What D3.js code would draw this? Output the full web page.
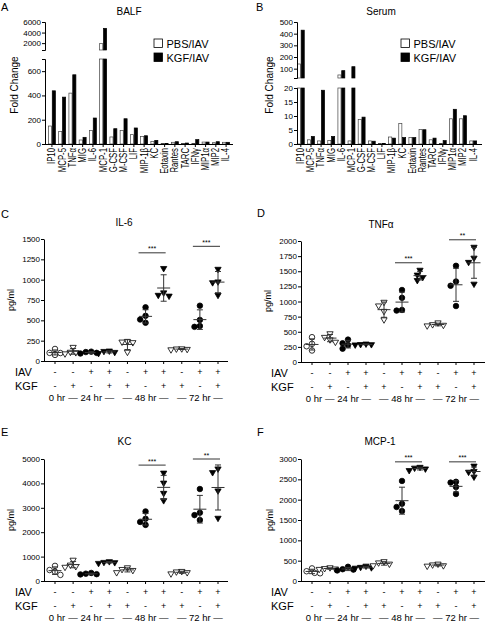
<!DOCTYPE html>
<html><head><meta charset="utf-8">
<script src="https://cdn.jsdelivr.net/npm/d3@7"></script>
<style>
body{margin:0;background:#fff;}
svg{display:block;font-family:"Liberation Sans",Arial,sans-serif;}
</style></head><body>
<svg id="c" width="486" height="622"></svg>
<script>
// ---------- data ----------
const cytokines = ["IP10","MCP-5","TNFα","MIG","IL-6","MCP-1","G-CSF","M-CSF","LIF","MIP-1β","KC","Eotaxin","Rantes","TARC","IFNγ","MIP1α","MIP2","IL-4"];
const balfPBS  = [148, 104, 419, 33, 110, 1900, 58, 110, 77, 63, 22, 5, 14, 5, 3, 16, 11, 14];
const balfKGF  = [438, 386, 570, 55, 214, 4800, 126, 208, 132, 68, 30, 5, 19, 8, 36, 16, 19, 14];
const serumPBS = [140, 1.5, 1.1, 1.2, 46, 1.1, 8.8, 1.1, 0.2, 2.5, 7.3, 2.3, 5.2, 1.5, 0.2, 9.0, 9.0, 1.1];
const serumKGF = [430, 2.7, 19.2, 2.7, 83, 117, 9.6, 1.0, 0.2, 2.1, 2.3, 2.3, 5.1, 2.1, 1.2, 12.4, 10.1, 1.1];
const seriesNames = ["PBS/IAV","KGF/IAV"];

const groupIAV = ["-","-","+","+","-","+","+","-","+","+"];
const groupKGF = ["-","+","-","+","+","-","+","+","-","+"];
const groupShape = ["circle","triangle","circle","triangle","triangle","circle","triangle","triangle","circle","triangle"];
const timeLabels = [
  {label:"0 hr", from:0, to:0},
  {label:"— 24 hr —", from:1, to:3},
  {label:"— 48 hr —", from:4, to:6},
  {label:"— 72 hr —", from:7, to:9}
];

const il6 = [
  [148, 100, 75, 98],
  [170, 105, 90, 110],
  [110, 100, 92, 115],
  [120, 108, 95, 125],
  [240, 235, 228, 110],
  [660, 555, 510, 470],
  [1140, 840, 810, 800],
  [150, 140, 152, 145],
  [680, 505, 430, 420],
  [1130, 975, 965, 810]
];
const tnfa = [
  [410, 300, 260, 190],
  [470, 410, 370, 330],
  [370, 310, 280, 220],
  [300, 290, 285, 292],
  [990, 930, 840, 700],
  [1190, 1060, 860, 850],
  [1520, 1440, 1400, 1350],
  [650, 620, 610, 600],
  [1590, 1330, 1260, 925],
  [1900, 1720, 1650, 1290]
];
const kc = [
  [620, 450, 380, 250],
  [860, 660, 600, 570],
  [330, 300, 280, 270],
  [800, 770, 760, 730],
  [550, 480, 440, 350],
  [2850, 2550, 2420, 2300],
  [4430, 4020, 3600, 3300],
  [400, 380, 350, 300],
  [3770, 2800, 2700, 2500],
  [4600, 4450, 3700, 2580]
];
const mcp1 = [
  [310, 240, 200, 190],
  [330, 310, 300, 290],
  [350, 290, 280, 260],
  [370, 340, 330, 320],
  [480, 450, 420, 380],
  [2460, 1900, 1820, 1720],
  [2800, 2780, 2760, 2720],
  [420, 400, 380, 370],
  [2440, 2420, 2310, 2140],
  [2830, 2700, 2680, 2560]
];
const il6Sig  = [{from:5,to:6,level:1330,label:"***"},{from:8,to:9,level:1410,label:"***"}];
const tnfaSig = [{from:5,to:6,level:1640,label:"***"},{from:8,to:9,level:2020,label:"**"}];
const kcSig   = [{from:5,to:6,level:4750,label:"***"},{from:8,to:9,level:5000,label:"**"}];
const mcp1Sig = [{from:5,to:6,level:2930,label:"***"},{from:8,to:9,level:2930,label:"***"}];

// ---------- drawing ----------
const svg = d3.select("#c");

function txt(x, y, s, size, anchor="start", extra={}) {
  const t = svg.append("text").attr("x", x).attr("y", y).attr("font-size", size)
    .attr("text-anchor", anchor).attr("fill", "#000").text(s);
  for (const k in extra) t.attr(k, extra[k]);
  return t;
}
function vtxt(cx, cy, s, size) {
  svg.append("text").attr("transform", `translate(${cx},${cy}) rotate(-90)`)
    .attr("text-anchor", "middle").attr("dominant-baseline", "central")
    .attr("font-size", size).text(s);
}
function styleAxis(g) {
  g.selectAll("path,line").attr("stroke", "#000").attr("stroke-width", 1);
  g.selectAll("text").attr("font-size", 8).attr("font-family", "Liberation Sans, Arial, sans-serif").attr("fill", "#000");
}

function barPanel(c, pbs, kgf) {
  const x = d3.scaleBand().domain(cytokines).range([c.b0, c.b1]).paddingInner(0.25).paddingOuter(c.po);
  const yLow = d3.scaleLinear().domain([0, c.lowMax]).range([c.yb, c.lowTop]);
  const yHigh = d3.scaleLinear().domain([c.lowMax, c.highMax]).range([c.highBottom, c.top]);
  const bw = x.bandwidth() / 2;
  const series = [pbs, kgf];
  series.forEach((vals, si) => {
    const gg = svg.append("g");
    cytokines.forEach((name, i) => {
      const v = vals[i];
      const bx = x(name) + si * bw;
      const fill = si === 0 ? "#fff" : "#000";
      const stroke = si === 0 ? "#444" : "#000";
      const lowTop = yLow(Math.min(v, c.lowMax));
      gg.append("rect").attr("x", bx + 0.35).attr("width", bw - 0.7)
        .attr("y", lowTop).attr("height", c.yb - lowTop)
        .attr("fill", fill).attr("stroke", stroke).attr("stroke-width", 0.7);
      if (v > c.lowMax) {
        const hTop = yHigh(Math.min(v, c.highMax));
        gg.append("rect").attr("x", bx + 0.35).attr("width", bw - 0.7)
          .attr("y", hTop).attr("height", c.highBottom - hTop)
          .attr("fill", fill).attr("stroke", stroke).attr("stroke-width", 0.7);
      }
    });
  });
  // y axes (broken)
  const a1 = svg.append("g").attr("transform", `translate(${c.x0},0)`)
    .call(d3.axisLeft(yLow).tickValues(c.lowTicks).tickSize(3).tickSizeOuter(3).tickPadding(1).tickFormat(d3.format("d")));
  const a2 = svg.append("g").attr("transform", `translate(${c.x0},0)`)
    .call(d3.axisLeft(yHigh).tickValues(c.highTicks).tickSize(3).tickSizeOuter(3).tickPadding(1).tickFormat(d3.format("d")));
  styleAxis(a1); styleAxis(a2);
  // x axis
  svg.append("line").attr("x1", c.x0).attr("x2", c.x1).attr("y1", c.yb + 0.5).attr("y2", c.yb + 0.5).attr("stroke", "#000");
  cytokines.forEach(name => {
    const cx = x(name) + x.bandwidth() / 2;
    svg.append("line").attr("x1", cx).attr("x2", cx).attr("y1", c.yb).attr("y2", c.yb + 3).attr("stroke", "#000");
    svg.append("text").attr("transform", `translate(${cx},${c.yb + 4}) rotate(-90) scale(0.74,1)`)
      .attr("text-anchor", "end").attr("dominant-baseline", "central").attr("font-size", 10.5).text(name);
  });
  // legend
  seriesNames.forEach((n, i) => {
    svg.append("rect").attr("x", c.lx).attr("y", c.ly + i * 14 - 8.5).attr("width", 8.5).attr("height", 8.5)
      .attr("fill", i === 0 ? "#fff" : "#000").attr("stroke", "#000").attr("stroke-width", 0.8);
    txt(c.lx + 12.5, c.ly + i * 14, n, 11);
  });
}

barPanel({x0:45, x1:233, b0:45, b1:233, po:0.3, yb:144, lowMax:700, lowTop:59, highMax:6000, highBottom:50, top:22,
  lowTicks:[0,200,400,600], highTicks:[2000,4000,6000], lx:154, ly:47.5}, balfPBS, balfKGF);
barPanel({x0:297, x1:482, b0:297, b1:477, po:0, yb:144, lowMax:20, lowTop:88, highMax:500, highBottom:78, top:22,
  lowTicks:[0,5,10,15,20], highTicks:[100,200,300,400,500], lx:401, ly:47.5}, serumPBS, serumKGF);

txt(1, 11, "A", 11); txt(256, 11, "B", 11);
txt(129, 15, "BALF", 10, "middle"); txt(381, 15, "Serum", 10, "middle");
vtxt(14, 85, "Fold Change", 10); vtxt(269.5, 85, "Fold Change", 10);

function swarm(vals, y, d, step) {
  const pts = vals.map(v => ({v, py: y(v)})).sort((a, b) => a.py - b.py);
  const placed = [];
  const offs = [0, -1, 1, -2, 2, -3, 3, -4, 4];
  for (const p of pts) {
    for (const k of offs) {
      const px = k * step;
      if (placed.every(q => Math.hypot(q.px - px, q.py - p.py) >= d)) { p.px = px; placed.push(p); break; }
    }
    if (p.px === undefined) { p.px = 0; placed.push(p); }
  }
  return pts;
}

function dotPanel(c, data, sig) {
  const y = d3.scaleLinear().domain([0, c.max]).range([c.yb, c.yt]);
  const x = d3.scalePoint().domain(d3.range(groupIAV.length)).range([c.g0, c.g9]);
  const ax = svg.append("g").attr("transform", `translate(${c.x0},0)`)
    .call(d3.axisLeft(y).tickValues(d3.range(0, c.max + 1, c.step)).tickSize(3).tickSizeOuter(0).tickPadding(1).tickFormat(d3.format("d")));
  styleAxis(ax);
  svg.append("line").attr("x1", c.x0).attr("x2", c.x1).attr("y1", c.yb + 0.5).attr("y2", c.yb + 0.5).attr("stroke", "#000");
  groupIAV.forEach((s, i) => {
    svg.append("line").attr("x1", x(i)).attr("x2", x(i)).attr("y1", c.yb).attr("y2", c.yb + 3).attr("stroke", "#000");
  });
  const circ = d3.symbol(d3.symbolCircle, 24)();
  const tri = d3.symbol(d3.symbolTriangle, 17)();
  data.forEach((vals, i) => {
    const cx = x(i);
    const m = d3.mean(vals), sd = d3.deviation(vals);
    const filled = groupIAV[i] === "+";
    const g = svg.append("g");
    swarm(vals, y, 5.2, 2.7).forEach(p => {
      g.append("path").attr("d", groupShape[i] === "circle" ? circ : tri)
        .attr("transform", `translate(${cx + p.px},${p.py})` + (groupShape[i] === "circle" ? "" : " rotate(180)"))
        .attr("fill", filled ? "#000" : "#fff").attr("stroke", "#000").attr("stroke-width", 0.8);
    });
    const col = "#333";
    g.append("line").attr("x1", cx - 6.5).attr("x2", cx + 6.5).attr("y1", y(m)).attr("y2", y(m)).attr("stroke", col).attr("stroke-width", 1);
    g.append("line").attr("x1", cx).attr("x2", cx).attr("y1", y(m - sd)).attr("y2", y(m + sd)).attr("stroke", col).attr("stroke-width", 1);
    [m - sd, m + sd].forEach(v => g.append("line").attr("x1", cx - 3).attr("x2", cx + 3).attr("y1", y(v)).attr("y2", y(v)).attr("stroke", col).attr("stroke-width", 1));
  });
  sig.forEach(s => {
    const x1 = x(s.from) - 7, x2 = x(s.to) + 2, yy = y(s.level);
    svg.append("line").attr("x1", x1).attr("x2", x2).attr("y1", yy).attr("y2", yy).attr("stroke", "#000").attr("stroke-width", 0.8);
    txt((x1 + x2) / 2, yy - 1.5, s.label, 7, "middle");
  });
  txt(c.lab, c.yb + 11, "IAV", 11, "start", {"dominant-baseline": "central"});
  txt(c.lab, c.yb + 24.5, "KGF", 11, "start", {"dominant-baseline": "central"});
  groupIAV.forEach((s, i) => txt(x(i), c.yb + 11, s, 9, "middle", {"dominant-baseline": "central"}));
  groupKGF.forEach((s, i) => txt(x(i), c.yb + 24.5, s, 9, "middle", {"dominant-baseline": "central"}));
  timeLabels.forEach(t => txt((x(t.from) + x(t.to)) / 2 + (t.from === t.to ? 2 : 0), c.yb + 39.5, t.label, 9.5, "middle"));
}

dotPanel({x0:44, x1:228, g0:55, g9:218, yb:361, yt:239, max:1500, step:250, lab:15}, il6, il6Sig);
dotPanel({x0:301, x1:485, g0:312, g9:474, yb:362, yt:241, max:2000, step:250, lab:271}, tnfa, tnfaSig);
dotPanel({x0:44, x1:228, g0:55, g9:218, yb:581, yt:459, max:5000, step:1000, lab:15}, kc, kcSig);
dotPanel({x0:301, x1:485, g0:312, g9:474, yb:581, yt:459, max:3000, step:500, lab:271}, mcp1, mcp1Sig);

txt(1, 218, "C", 11); txt(257, 217, "D", 11); txt(1, 436, "E", 11); txt(257, 436, "F", 11);
txt(124, 226, "IL-6", 10, "middle"); txt(381, 228, "TNFα", 10, "middle");
txt(124.5, 445, "KC", 10, "middle"); txt(380, 445, "MCP-1", 10, "middle");
vtxt(11, 300, "pg/ml", 9); vtxt(268, 301, "pg/ml", 9);
vtxt(11, 520, "pg/ml", 9); vtxt(270, 520, "pg/ml", 9);
</script>
</body></html>
